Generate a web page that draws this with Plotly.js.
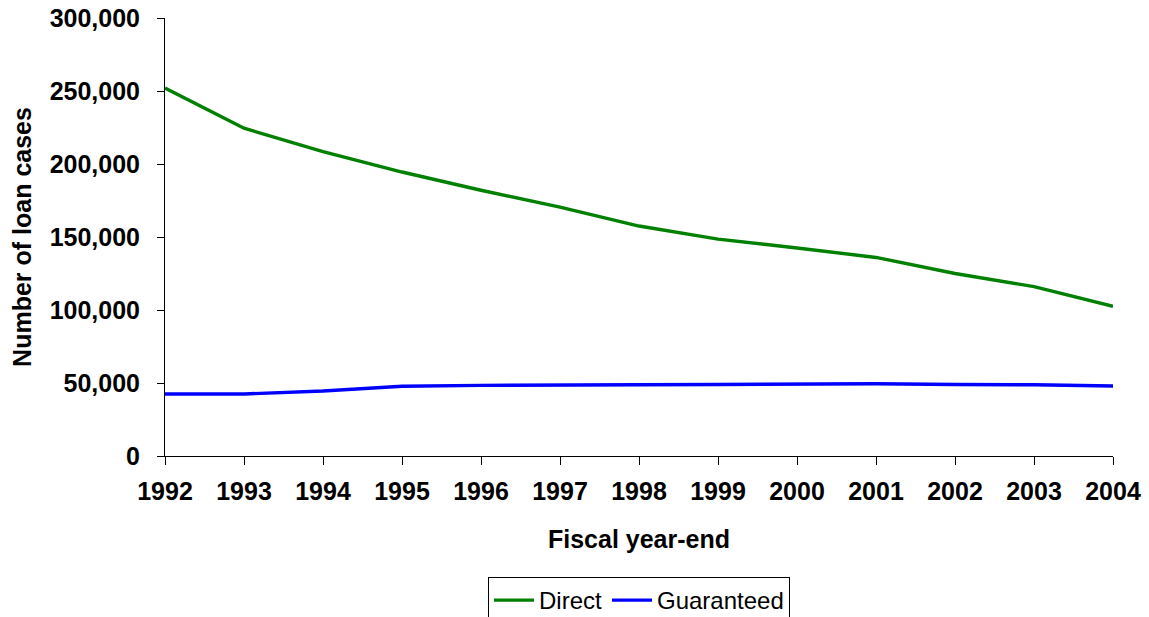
<!DOCTYPE html>
<html>
<head>
<meta charset="utf-8">
<script src="https://cdn.plot.ly/plotly-3.0.1.min.js"></script>
<style>html,body{margin:0;padding:0;background:#fff;}#chart{width:1149px;height:617px;}</style>
</head>
<body>
<div id="chart"></div>
<script>
const years = [1992, 1993, 1994, 1995, 1996, 1997, 1998, 1999, 2000, 2001, 2002, 2003, 2004];
const directCases = [252000, 224500, 208500, 194500, 182000, 170500, 157500, 148500, 142500, 136000, 125000, 116000, 102500];
const guaranteedCases = [42500, 42500, 44500, 47800, 48400, 48800, 48800, 49000, 49500, 49500, 49000, 48800, 47900];
const yTickVals = [0, 50000, 100000, 150000, 200000, 250000, 300000];
const yTickText = ["0", "50,000", "100,000", "150,000", "200,000", "250,000", "300,000"];

const FONT = "Liberation Sans, Arial, sans-serif";
const FS = 25;

const traces = [
  {x: years, y: directCases, name: "Direct", type: "scatter", mode: "lines",
   line: {color: "#008000", width: 3.4}},
  {x: years, y: guaranteedCases, name: "Guaranteed", type: "scatter", mode: "lines",
   line: {color: "#0000FF", width: 3.4}}
];

const layout = {
  width: 1149, height: 617,
  margin: {l: 165, r: 36, t: 18, b: 161},
  paper_bgcolor: "#fff", plot_bgcolor: "#fff",
  font: {family: FONT, color: "#000", size: FS},
  showlegend: true,
  legend: {orientation: "h", x: 0.5, xanchor: "center", xref: "paper",
           y: 1 - 577/617, yanchor: "top", yref: "container",
           bordercolor: "#000", borderwidth: 1, bgcolor: "#fff",
           font: {family: FONT, size: 24, color: "#000"}, itemwidth: 40, tracegroupgap: 0},
  xaxis: {
    range: [1992, 2004], tickmode: "array", tickvals: years, ticktext: years.map(String),
    showgrid: false, zeroline: false, showline: true, linecolor: "#000", linewidth: 1,
    ticks: "outside", ticklen: 8, tickcolor: "#000", ticklabelstandoff: 5,
    tickfont: {family: FONT, size: FS, weight: "bold"},
    title: {text: "<b>Fiscal year-end</b>", font: {family: FONT, size: FS}, standoff: 26}
  },
  yaxis: {
    range: [0, 300000], tickmode: "array", tickvals: yTickVals, ticktext: yTickText,
    showgrid: false, zeroline: false, showline: true, linecolor: "#000", linewidth: 1,
    ticks: "outside", ticklen: 7, tickcolor: "#000", ticklabelstandoff: 12,
    tickfont: {family: FONT, size: FS, weight: "bold"},
    title: {text: "<b>Number of loan cases</b>", font: {family: FONT, size: FS}, standoff: 10}
  }
};

Plotly.newPlot("chart", traces, layout, {displayModeBar: false, staticPlot: true});
</script>
</body>
</html>
